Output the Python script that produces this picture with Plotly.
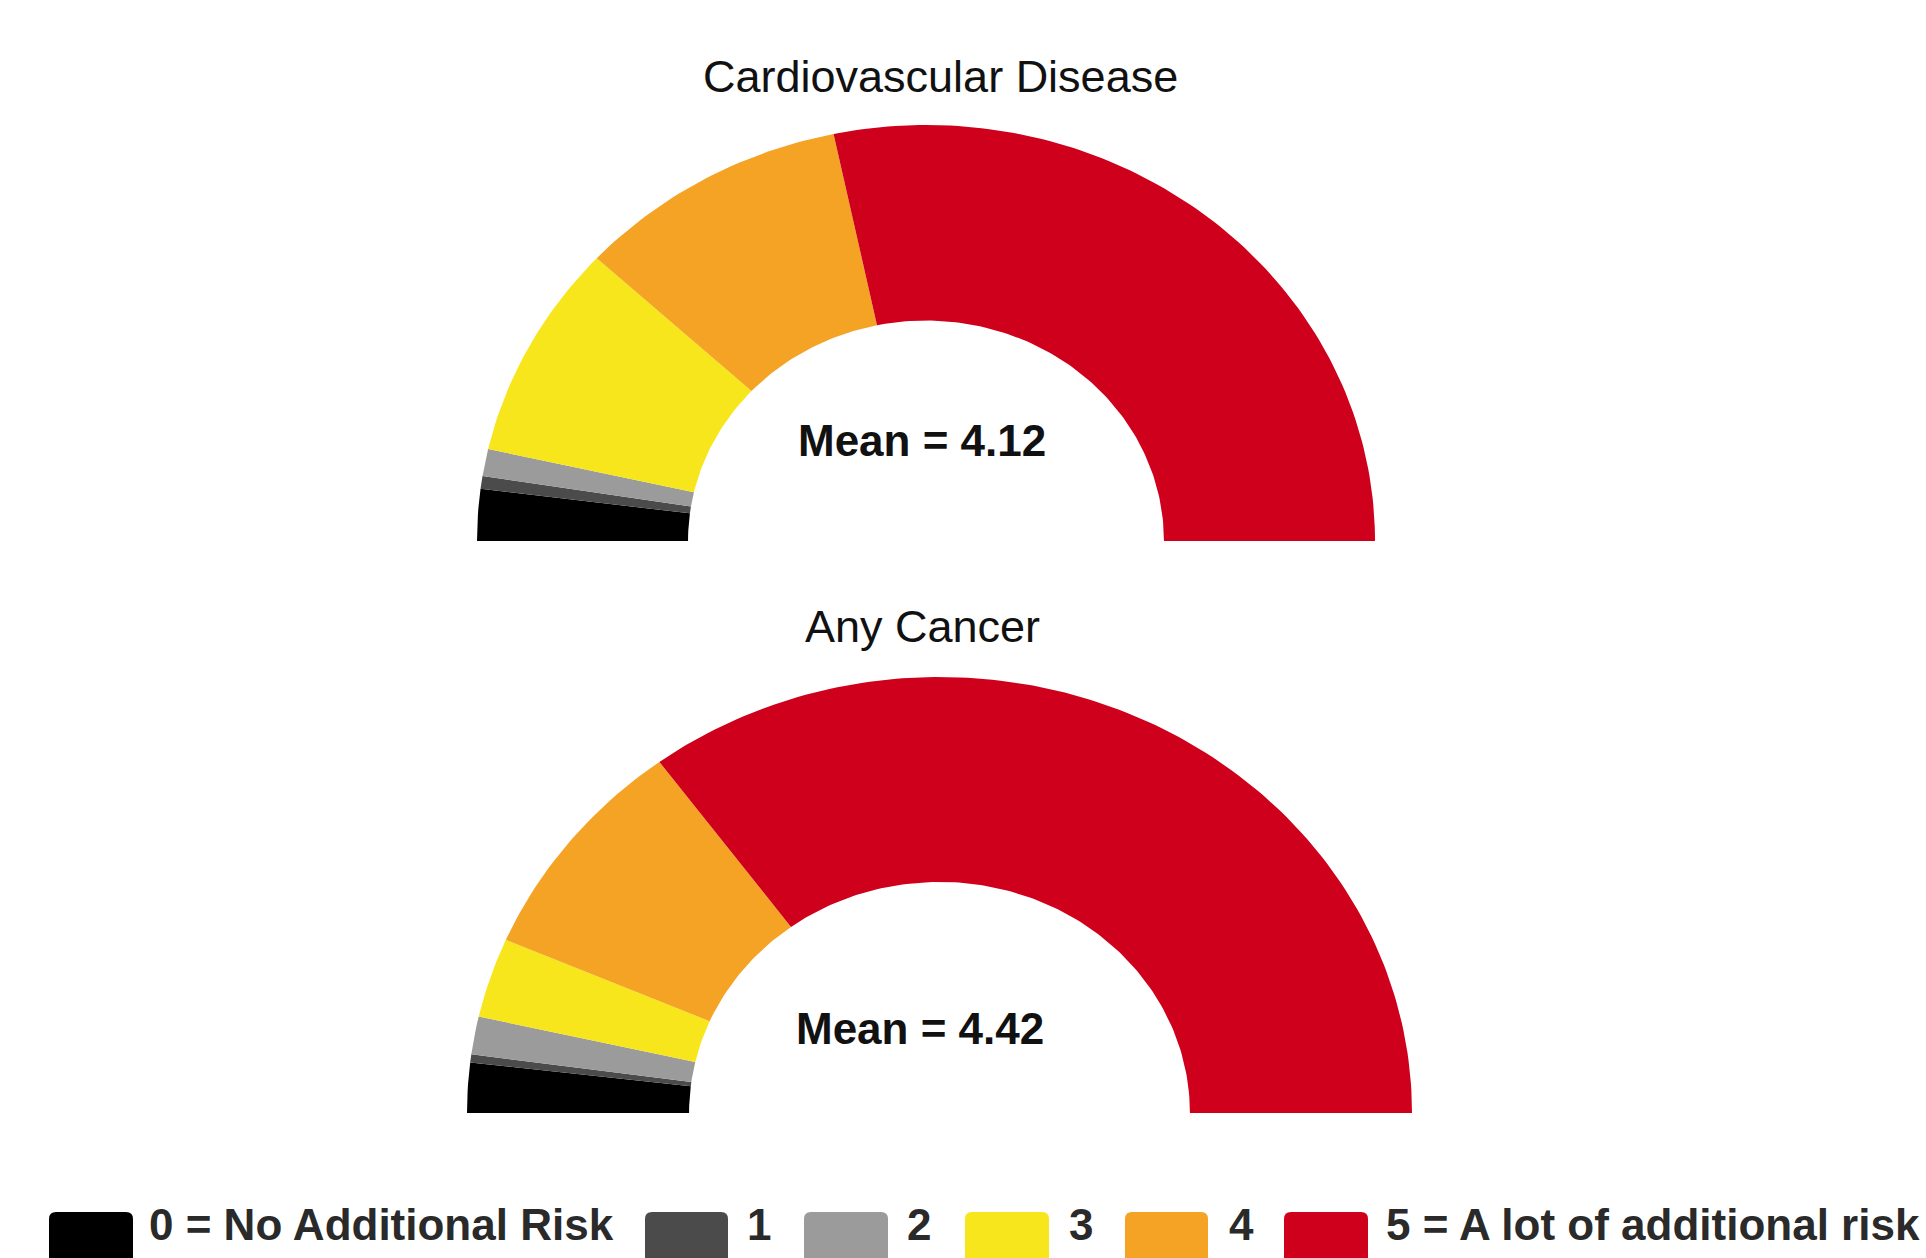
import numpy as np
import plotly.graph_objects as go

# Response scale and colours
levels = ["0 = No Additional Risk", "1", "2", "3", "4", "5 = A lot of additional risk"]
colors = ["#000000", "#4b4b4b", "#9b9b9b", "#f7e61c", "#f4a324", "#cf001b"]

# Gauge titles and reported means
titles = ["Cardiovascular Disease", "Any Cancer"]
means = ["4.12", "4.42"]

# Share of responses (%) per level
cvd_share = [4.0, 1.0, 2.1, 16.7, 19.6, 56.6]
cancer_share = [3.7, 0.6, 2.8, 5.9, 16.8, 70.2]

W, H = 1926, 1258
HOLE = 0.53

# Gauge boxes in pixels: (left, right, top, base)
gauge_boxes = [(477, 1375, 125, 541), (467, 1412, 677, 1113)]


def wedge(f0, f1, hole):
    """Half-ring segment between cumulative fractions f0..f1 (0 = left, 1 = right)."""
    n = max(2, int(np.ceil((f1 - f0) * 180)) + 1)
    t = np.pi * (1 - np.linspace(f0, f1, n))
    xo, yo = np.cos(t), np.sin(t)
    xi, yi = hole * np.cos(t[::-1]), hole * np.sin(t[::-1])
    x = np.concatenate([xo, xi, xo[:1]])
    y = np.concatenate([yo, yi, yo[:1]])
    return x, y


fig = go.Figure()
layout_axes = {}
for g, shares in enumerate([cvd_share, cancer_share]):
    ax = "" if g == 0 else str(g + 1)
    total = float(sum(shares))
    cum = np.concatenate([[0.0], np.cumsum(shares) / total])
    for k, lvl in enumerate(levels):
        x, y = wedge(cum[k], cum[k + 1], HOLE)
        fig.add_trace(go.Scatter(
            x=x, y=y, mode="lines", fill="toself",
            fillcolor=colors[k], line=dict(width=0, color=colors[k]),
            name=lvl, showlegend=False, hoverinfo="skip",
            xaxis="x" + ax, yaxis="y" + ax,
        ))
    l, r, t, b = gauge_boxes[g]
    layout_axes["xaxis" + ax] = dict(domain=[l / W, r / W], range=[-1, 1],
                                     visible=False, fixedrange=True)
    layout_axes["yaxis" + ax] = dict(domain=[1 - b / H, 1 - t / H], range=[0, 1],
                                     visible=False, fixedrange=True)

annotations = []
title_pos = [(940, 76), (922, 626)]
mean_pos = [(922, 440), (920, 1028)]
for g in range(2):
    annotations.append(dict(
        text=titles[g], x=title_pos[g][0] / W, y=1 - title_pos[g][1] / H,
        xref="paper", yref="paper", xanchor="center", yanchor="middle",
        showarrow=False, font=dict(family="Liberation Sans, Arial", size=45, color="#111111"),
    ))
    annotations.append(dict(
        text="<b>Mean = " + means[g] + "</b>", x=mean_pos[g][0] / W, y=1 - mean_pos[g][1] / H,
        xref="paper", yref="paper", xanchor="center", yanchor="middle",
        showarrow=False, font=dict(family="Liberation Sans, Arial", size=44, color="#111111"),
    ))

# Legend: swatch boxes and labels along the bottom edge
swatch_x = [(49, 133), (645, 728), (804, 888), (965, 1049), (1125, 1208), (1284, 1368)]
label_x = [147, 745, 905, 1067, 1227, 1384]
shapes = []
for k, lvl in enumerate(levels):
    x0, x1 = swatch_x[k]
    y0 = 1212
    rr = 7
    path = (f"M {x0/W},{-0.02} L {x0/W},{1-(y0+rr)/H} "
            f"Q {x0/W},{1-y0/H} {(x0+rr)/W},{1-y0/H} "
            f"L {(x1-rr)/W},{1-y0/H} Q {x1/W},{1-y0/H} {x1/W},{1-(y0+rr)/H} "
            f"L {x1/W},{-0.02} Z")
    shapes.append(dict(type="path", path=path, xref="paper", yref="paper",
                       fillcolor=colors[k], line=dict(width=0)))
    annotations.append(dict(
        text="<b>" + lvl + "</b>", x=label_x[k] / W, y=1 - 1224 / H,
        xref="paper", yref="paper", xanchor="left", yanchor="middle",
        showarrow=False,
        font=dict(family="Liberation Sans, Arial", size=44, color="#2a2a2a"),
    ))

fig.update_layout(
    width=W, height=H,
    margin=dict(l=0, r=0, t=0, b=0),
    paper_bgcolor="white", plot_bgcolor="white",
    showlegend=False,
    annotations=annotations,
    shapes=shapes,
    **layout_axes,
)

fig.write_html("out.html")
